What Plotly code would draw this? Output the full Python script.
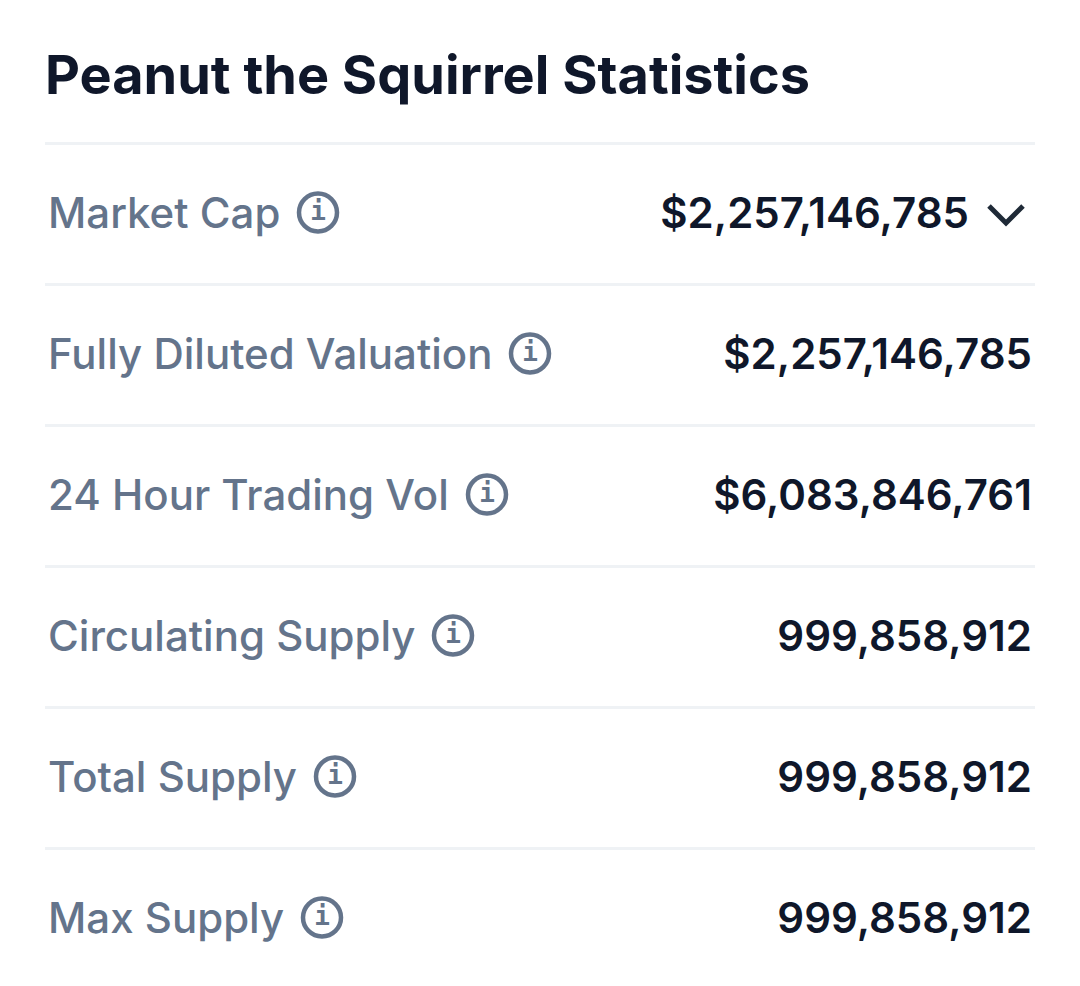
import plotly.graph_objects as go

TITLE = 'Peanut the Squirrel Statistics'
labels = ['Market Cap', 'Fully Diluted Valuation', '24 Hour Trading Vol',
          'Circulating Supply', 'Total Supply', 'Max Supply']
values = ['$2,257,146,785', '$2,257,146,785', '$6,083,846,761',
          '999,858,912', '999,858,912', '999,858,912']

# layout in pixels of the 1080x986 picture
row_y = [213, 354, 495, 636, 777, 918]
rule_y = [143.5, 284.5, 425.5, 566.5, 707.5, 848.5]
icon_x = [318, 530, 487, 453, 335, 322]
value_x = [969, 1032, 1032, 1032, 1032, 1032]

GREY = '#64748b'
DARK = '#0f172a'
RULE = '#eff2f5'
FONT = 'Inter'

# text sits a little high in its box
text_y = [y + 4 for y in row_y]

fig = go.Figure()

# row labels
fig.add_trace(go.Scatter(x=[48] * len(labels), y=text_y, text=labels, mode='text',
                         textposition='middle right', cliponaxis=False,
                         textfont=dict(family=FONT, size=42, color=GREY, weight=500),
                         hoverinfo='skip'))

# values, right aligned
fig.add_trace(go.Scatter(x=value_x, y=text_y, text=values, mode='text',
                         textposition='middle left', cliponaxis=False,
                         textfont=dict(family=FONT, size=42, color=DARK, weight=600),
                         hoverinfo='skip'))

# little i in the info icons
fig.add_trace(go.Scatter(x=icon_x, y=row_y, text=['i'] * len(labels), mode='text',
                         textposition='middle center', cliponaxis=False,
                         textfont=dict(family='DejaVu Sans Mono', size=26, color=GREY, weight=700),
                         hoverinfo='skip'))

# dropdown chevron
fig.add_trace(go.Scatter(x=[989, 1006, 1023], y=[206, 223, 206], mode='lines',
                         line=dict(color='#1f2a37', width=5),
                         hoverinfo='skip'))

# separators
for y in rule_y:
    fig.add_shape(type='line', x0=45, x1=1035, y0=y, y1=y,
                  line=dict(color=RULE, width=3), layer='below')

# info icon rings
for x, y in zip(icon_x, row_y):
    fig.add_shape(type='circle', x0=x - 19, x1=x + 19, y0=y - 19.5, y1=y + 18.5,
                  line=dict(color=GREY, width=4.5))

fig.add_annotation(x=43, y=74, text=TITLE, showarrow=False, xanchor='left', yanchor='middle',
                   font=dict(family=FONT, size=54, color=DARK, weight=700))

fig.update_xaxes(range=[0, 1080], visible=False, fixedrange=True)
fig.update_yaxes(range=[986, 0], visible=False, fixedrange=True)
fig.update_layout(width=1080, height=986, margin=dict(l=0, r=0, t=0, b=0),
                  paper_bgcolor='white', plot_bgcolor='white', showlegend=False)

fig.write_html("out.html", post_script="document.body.style.margin='0';",
               config=dict(displayModeBar=False))
